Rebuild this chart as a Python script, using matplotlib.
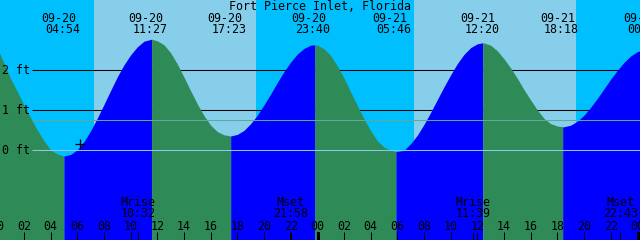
import numpy as np
import matplotlib
matplotlib.use('Agg')
import matplotlib.pyplot as plt
from matplotlib.transforms import blended_transform_factory

# tide height (ft), hours counted from 09-20 00:00
hours = [0, 0.5, 1, 1.5, 2, 2.5, 3, 3.5, 4, 4.5, 5, 5.5, 6, 6.5, 7, 7.5, 8, 8.5, 9, 9.5,
         10, 10.5, 11, 11.57, 12, 12.5, 13, 13.5, 14, 14.5, 15, 15.5, 16, 16.5, 17, 17.5,
         18, 18.5, 19, 19.5, 20, 20.5, 21, 21.5, 22, 22.5, 23, 23.5, 23.8,
         24, 24.5, 25, 25.5, 26, 26.5, 27, 27.5, 28, 28.5, 29, 29.5, 29.9,
         30, 30.5, 31, 31.5, 32, 32.5, 33, 33.5, 34, 34.5, 35, 35.5, 36, 36.4,
         36.5, 37, 37.5, 38, 38.5, 39, 39.5, 40, 40.5, 41, 41.5, 42, 42.4,
         42.5, 43, 43.5, 44, 44.5, 45, 45.5, 46, 46.5, 47, 47.5, 48, 48.5, 49]
height = [2.55, 2.17, 1.78, 1.46, 1.12, 0.80, 0.50, 0.23, 0.00, -0.10, -0.15, -0.11,
          0.01, 0.21, 0.48, 0.80, 1.14, 1.49, 1.83, 2.13, 2.38, 2.58, 2.72, 2.77,
          2.73, 2.63, 2.43, 2.15, 1.82, 1.48, 1.15, 0.86, 0.62, 0.46, 0.38, 0.35,
          0.39, 0.49, 0.66, 0.87, 1.13, 1.40, 1.69, 1.96, 2.20, 2.40, 2.54, 2.62, 2.63,
          2.62, 2.53, 2.36, 2.10, 1.80, 1.45, 1.11, 0.78, 0.48, 0.23, 0.07, -0.01, -0.04,
          -0.035, -0.01, 0.16, 0.37, 0.64, 0.94, 1.26, 1.58, 1.88, 2.16, 2.39, 2.56,
          2.655, 2.68,
          2.675, 2.62, 2.48, 2.28, 2.05, 1.79, 1.51, 1.25, 1.00, 0.79, 0.66, 0.60, 0.58,
          0.581, 0.62, 0.72, 0.87, 1.07, 1.29, 1.53, 1.77, 1.99, 2.19, 2.35, 2.46, 2.51,
          2.50]

# sunrise, sunset, sunrise, sunset
sun_hours = [7.27, 19.4, 31.28, 43.4]

tide_dates = ['09-20', '09-20', '09-20', '09-20', '09-21', '09-21', '09-21', '09-22']
tide_times = ['04:54', '11:27', '17:23', '23:40', '05:46', '12:20', '18:18', '00:33']
tide_day = [0, 0, 0, 0, 1, 1, 1, 2]

moon_names = ['Mrise', 'Mset', 'Mrise', 'Mset']
moon_times = ['10:32', '21:58', '11:39', '22:43']
moon_day = [0, 0, 1, 1]

levels = [0, 1, 2]
level_labels = ['0 ft', '1 ft', '2 ft']
mean_level = 0.75
now_hour, now_height = 6.2, 0.15

hour_ticks = list(range(0, 50, 2))
hour_labels = ['%02d' % (h % 24) for h in hour_ticks]
day_marks = [24, 48]

title = 'Fort Pierce Inlet, Florida'

night = '#00bfff'
day = '#87ceeb'
rise = '#0000ff'
fall = '#2e8b57'


def to_hour(day_n, s):
    hh, mm = s.split(':')
    return day_n * 24 + int(hh) + int(mm) / 60


fig = plt.figure(figsize=(6.4, 2.4), dpi=100, facecolor=night)
ax = fig.add_axes([0, 0, 1, 1])
ax.set_xlim(0.2, 48.2)
ax.set_ylim(-2.25, 3.75)
ax.axis('off')

# daylight
for a, b in zip(sun_hours[0::2], sun_hours[1::2]):
    ax.axvspan(a, b, color=day, lw=0, zorder=0)

# 1 ft / 2 ft lines sit under the tide
ax.hlines(levels[1:], 2.6, 48.2, color='black', lw=0.75, zorder=1)

# tide fill, blue while rising, green while falling
t = np.array(hours)
h = np.array(height)
up = np.diff(h) > 0
start = 0
for i in range(1, len(up) + 1):
    if i == len(up) or up[i] != up[start]:
        sl = slice(start, i + 1)
        ax.fill_between(t[sl], -2.25, h[sl], color=rise if up[start] else fall,
                        lw=0, antialiased=False, zorder=2)
        start = i

ax.hlines([mean_level], 2.6, 48.2, color='#5fa89c', lw=0.75, zorder=3)
ax.hlines([levels[0]], 2.6, 48.2, color='#8cc8ea', lw=0.75, zorder=3)
ax.plot(now_hour, now_height, marker='+', ms=6.5, mew=0.9, color='black', zorder=4)

font = dict(family='DejaVu Sans Mono', size=8.4, color='black')
tr = blended_transform_factory(ax.transData, ax.transAxes)
ty = blended_transform_factory(ax.transAxes, ax.transData)


def py(p):
    return 1 - p / 240


for lv, lab in zip(levels, level_labels):
    ax.text(2 / 640, lv - 0.1, lab, transform=ty, ha='left', va='baseline', **font)

ax.text(0.5, py(10), title, transform=ax.transAxes, ha='center', va='baseline', **font)

for d, s, n in zip(tide_dates, tide_times, tide_day):
    x = to_hour(n, s)
    ax.text(x - 0.3, py(21.7), d, transform=tr, ha='center', va='baseline', **font)
    ax.text(x, py(33.3), s, transform=tr, ha='center', va='baseline', **font)

moon_x = [to_hour(n, s) for n, s in zip(moon_day, moon_times)]
for x, name, s in zip(moon_x, moon_names, moon_times):
    ax.text(x, py(206.5), name, transform=tr, ha='center', va='baseline', **font)
    ax.text(x, py(217), s, transform=tr, ha='center', va='baseline', **font)

for x, lab in zip(hour_ticks, hour_labels):
    ax.text(x, py(230), lab, transform=tr, ha='center', va='baseline', **font)

ax.vlines(hour_ticks + moon_x, -2.25, -2.05, color='black', lw=0.75, zorder=4)
ax.bar(day_marks, 0.2, width=0.225, bottom=-2.25, align='edge', color='black', zorder=4)

plt.savefig('out.png', dpi=100, facecolor=night)
plt.close()
